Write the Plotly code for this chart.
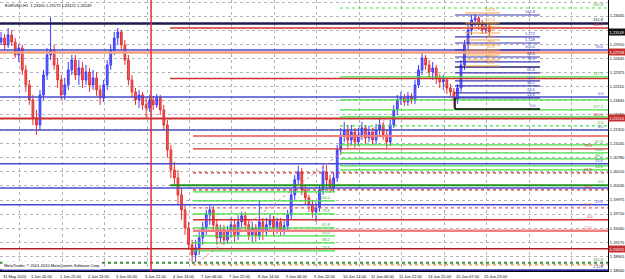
import plotly.graph_objects as go

# ---------------- price bars (2-hour bars, hour index from 31 May 2010) ----------------
bar_hour = list(range(0, 277, 2))
opens = [1.22956,1.23032,1.22900,1.23088,1.22956,1.22711,1.22843,1.22429,1.22146,1.21863,
         1.21524,1.21392,1.21957,1.22334,1.22711,1.22806,1.22523,1.22240,1.21957,1.22146,
         1.22429,1.22617,1.22334,1.22466,1.22240,1.22391,1.22146,1.22278,1.22051,1.21901,
         1.22146,1.22523,1.22806,1.23032,1.23145,1.22900,1.22617,1.22240,1.22014,1.21863,
         1.21957,1.21769,1.21712,1.21863,1.21769,1.21901,1.21674,1.21392,1.20920,1.20543,
         1.20393,1.20072,1.19789,1.19450,1.19130,1.18941,1.19073,1.19262,1.19450,1.19695,
         1.19789,1.19507,1.19262,1.19413,1.19224,1.19375,1.19507,1.19318,1.19563,1.19676,
         1.19507,1.19318,1.19450,1.19299,1.19563,1.19375,1.19507,1.19601,1.19450,1.19563,
         1.19413,1.19488,1.19695,1.20072,1.20355,1.20506,1.20166,1.20016,1.19884,1.19752,
         1.19827,1.20166,1.20506,1.20355,1.20204,1.20393,1.20920,1.21203,1.21297,1.21109,
         1.21260,1.21071,1.21203,1.21335,1.21147,1.21260,1.21109,1.21297,1.21392,1.21203,
         1.21071,1.21392,1.21674,1.21863,1.21901,1.21825,1.21938,1.21863,1.22146,1.22429,
         1.22655,1.22523,1.22391,1.22466,1.22278,1.22202,1.22240,1.22089,1.22014,1.21863,
         1.22089,1.22523,1.22900,1.23183,1.23371,1.23409,1.23296,1.23183,1.23258]
highs = [1.23145,1.23107,1.23220,1.23183,1.23032,1.22919,1.22900,1.22523,1.22240,1.21957,
         1.21674,1.22051,1.22429,1.22843,1.23428,1.22900,1.22655,1.22334,1.22278,1.22579,
         1.22711,1.22711,1.22617,1.22579,1.22523,1.22466,1.22429,1.22391,1.22146,1.22240,
         1.22617,1.22900,1.23145,1.23220,1.23183,1.22994,1.22711,1.22334,1.22089,1.22051,
         1.22014,1.21901,1.21957,1.21938,1.21976,1.21957,1.21769,1.21486,1.21015,1.20694,
         1.20543,1.20204,1.19884,1.19563,1.19224,1.19224,1.19413,1.19563,1.19789,1.19884,
         1.19865,1.19601,1.19507,1.19507,1.19488,1.19639,1.19601,1.19695,1.19752,1.19752,
         1.19601,1.19563,1.19526,1.19978,1.19639,1.19639,1.19695,1.19676,1.19639,1.19639,
         1.19601,1.19789,1.20166,1.20449,1.20619,1.20581,1.20261,1.20072,1.19978,1.19940,
         1.20261,1.20638,1.20638,1.20449,1.20506,1.21015,1.21335,1.21448,1.21392,1.21392,
         1.21335,1.21335,1.21448,1.21392,1.21373,1.21335,1.21411,1.21524,1.21448,1.21297,
         1.21486,1.21769,1.21957,1.22014,1.21976,1.22014,1.21995,1.22240,1.22523,1.22768,
         1.22711,1.22617,1.22579,1.22523,1.22353,1.22334,1.22278,1.22165,1.22089,1.22165,
         1.22617,1.22994,1.23277,1.23465,1.23484,1.23446,1.23371,1.23333,1.23296]
lows = [1.22900,1.22806,1.22843,1.22881,1.22655,1.22579,1.22334,1.22014,1.21769,1.21392,
        1.21203,1.21297,1.21863,1.22240,1.22617,1.22429,1.22089,1.21863,1.21863,1.22051,
        1.22334,1.22240,1.22146,1.22089,1.22146,1.22014,1.22051,1.21938,1.21769,1.21825,
        1.22051,1.22429,1.22711,1.22900,1.22806,1.22523,1.22146,1.21901,1.21769,1.21712,
        1.21674,1.21524,1.21637,1.21674,1.21712,1.21580,1.21297,1.20770,1.20393,1.20261,
        1.19884,1.19601,1.19318,1.19036,1.18809,1.18809,1.18941,1.19130,1.19318,1.19507,
        1.19375,1.19130,1.19167,1.19130,1.19149,1.19262,1.19186,1.19224,1.19450,1.19413,
        1.19224,1.19186,1.19186,1.19224,1.19224,1.19299,1.19413,1.19318,1.19337,1.19299,
        1.19318,1.19375,1.19601,1.19978,1.20261,1.20072,1.19884,1.19752,1.19639,1.19563,
        1.19752,1.20072,1.20204,1.20110,1.20129,1.20317,1.20826,1.21071,1.20958,1.21015,
        1.20958,1.20996,1.21109,1.21034,1.21071,1.21015,1.21034,1.21203,1.21109,1.20958,
        1.20996,1.21335,1.21580,1.21769,1.21750,1.21750,1.21788,1.21788,1.22089,1.22334,
        1.22429,1.22278,1.22240,1.22165,1.22089,1.22051,1.21976,1.21901,1.21712,1.21788,
        1.22014,1.22429,1.22806,1.23088,1.23258,1.23183,1.23107,1.23107,1.23069]
closes = [1.23032,1.22900,1.23088,1.22956,1.22711,1.22843,1.22429,1.22146,1.21863,1.21524,
          1.21392,1.21957,1.22334,1.22711,1.22806,1.22523,1.22240,1.21957,1.22146,1.22429,
          1.22617,1.22334,1.22466,1.22240,1.22391,1.22146,1.22278,1.22051,1.21901,1.22146,
          1.22523,1.22806,1.23032,1.23145,1.22900,1.22617,1.22240,1.22014,1.21863,1.21957,
          1.21769,1.21712,1.21863,1.21769,1.21901,1.21674,1.21392,1.20920,1.20543,1.20393,
          1.20072,1.19789,1.19450,1.19130,1.18941,1.19073,1.19262,1.19450,1.19695,1.19789,
          1.19507,1.19262,1.19413,1.19224,1.19375,1.19507,1.19318,1.19563,1.19676,1.19507,
          1.19318,1.19450,1.19299,1.19563,1.19375,1.19507,1.19601,1.19450,1.19563,1.19413,
          1.19488,1.19695,1.20072,1.20355,1.20506,1.20166,1.20016,1.19884,1.19752,1.19827,
          1.20166,1.20506,1.20355,1.20204,1.20393,1.20920,1.21203,1.21297,1.21109,1.21260,
          1.21071,1.21203,1.21335,1.21147,1.21260,1.21109,1.21297,1.21392,1.21203,1.21071,
          1.21392,1.21674,1.21863,1.21901,1.21825,1.21938,1.21863,1.22146,1.22429,1.22655,
          1.22523,1.22391,1.22466,1.22278,1.22202,1.22240,1.22089,1.22014,1.21863,1.22089,
          1.22523,1.22900,1.23183,1.23371,1.23409,1.23296,1.23183,1.23258,1.23149]

# ---------------- axes text ----------------
time_tick_hours = [0,16,32,48,64,80,96,112,128,144,160,176,192,208,224,240,256,272]
time_labels = ["31 May 2010","1 Jun 05:00","1 Jun 21:00","2 Jun 13:00","3 Jun 05:00",
               "3 Jun 21:00","4 Jun 13:00","7 Jun 06:00","7 Jun 22:00","8 Jun 14:00",
               "9 Jun 06:00","9 Jun 22:00","10 Jun 14:00","11 Jun 06:00","11 Jun 22:00",
               "14 Jun 15:00","15 Jun 07:00","15 Jun 23:00"]
price_tick_values = [1.23710,1.23445,1.23175,1.22910,1.22645,1.22375,1.22110,
                     1.21845,1.21580,1.21310,1.21045,1.20780,1.20510,1.20245,
                     1.19975,1.19710,1.19440,1.19175,1.18905,1.18640]
# the 1.23175 label is hidden behind the current-price box in the reference
price_labels = ["1.23710","1.23445","","1.22910","1.22645","1.22375","1.22110",
                "1.21845","1.21580","1.21310","1.21045","1.20780","1.20510","1.20245",
                "1.19975","1.19710","1.19440","1.19175","1.18905","1.18640"]
header_text = "EURUSD,H1  1.23160 1.23175 1.23122 1.23149"
footer_text = "MetaTrader, \u00a9 2001-2010 MetaQuotes Software Corp."

X_MIN, X_MAX = -0.6, 343.1
Y_MIN, Y_MAX = 1.18636, 1.23748

# ---------------- drawn objects (price levels, anchored in time) ----------------
full_prices = [1.23305, 1.22806, 1.22758, 1.21919, 1.21514, 1.21297, 1.20657, 1.20204, 1.19884, 1.19055, 1.18790, 1.18649]
full_labels = ["161.8", "78.6", "", "0.0", "100.0", "0.0", "23.6", "", "23.6", "", "161.8", "1.128"]
full_colors = ["#1c1c50", "#4a4ad0", "#f4a080", "#4848d0", "#c83030", "#5050b8", "#4848d0", "#4848d0", "#4848d0", "#b82020", "#3c8c3c", "#3030a0"]
full_widths = [2.5, 1.5, 2.5, 1.5, 2, 1.5, 1.5, 1.5, 1.5, 1.5, 2, 2]
full_dashes = ["solid"] * 10 + ["dot", "solid"]

red_start_a = 95.5
red_a_prices = [1.23220, 1.22268]
red_a_labels = ["161.8", ""]
red_start_b = 108.5
red_b_prices = [1.21184, 1.20939, 1.20487, 1.20166, 1.19827, 1.19601, 1.19394, 1.18753]
red_b_labels = ["", "78.6", "61.8", "50.0", "38.2", "0.0", "23.6", ""]
red_b_colors = ["#f08080", "#d03030", "#d03030", "#d03030", "#e06060", "#d03030", "#f08080", "#e08030"]
red_b_widths = [2, 1.2, 1.2, 1.2, 1.2, 1.5, 2.5, 1]
red_b_dashes = ["solid", "solid", "dot", "dot", "dot", "solid", "solid", "dot"]

green_start = 191.6
green_prices = [1.23597, 1.22296, 1.21863, 1.21674, 1.21543, 1.21373, 1.21015, 1.20864, 1.20751, 1.20619, 1.20543]
green_labels = ["261.8", "127.2", "", "127.2", "", "0.0", "61.8", "50.0", "38.2", "", "14.6"]
green_thick_start = 95.5
green_thick_price = 1.20252

low_green_start, low_green_end = 108.5, 188.8
low_green_prices = [1.20129, 1.19959, 1.19714, 1.19450, 1.19299, 1.19167, 1.19017]
low_green_labels = ["127.2", "100.0", "78.6", "61.8", "50.0", "38.2", "23.6"]

blue_start, blue_end = 256.6, 304.7
blue_prices = [1.23465, 1.23051, 1.22937, 1.22806, 1.22673, 1.22579, 1.22485, 1.22372, 1.22221, 1.22127, 1.21995, 1.21901]
blue_labels = ["161.8", "1.272", "1.128", "100.0", "88.6", "78.6", "", "61.8", "50.0", "38.2", "23.6", "14.6"]
blue_zero_price = 1.21693

orange_start, orange_end = 262.3, 282.0
orange_prices = [1.23503, 1.23315, 1.23239, 1.23126, 1.22994, 1.22900, 1.22806, 1.22711, 1.22617, 1.22504]
orange_labels = ["161.8", "127.2", "113.0", "100.0", "88.6", "78.6", "61.8", "50.0", "38.2", "23.6"]

trend_hours = [110.8, 218.2]
trend_prices = [1.18790, 1.21524]
vline_hour = 84.8

box_prices = [1.23149, 1.22758, 1.21514, 1.19055]
box_texts = ["1.23149", "1.22758", "1.21514", "1.19055"]
box_colors = ["#101010", "#c83030", "#c83030", "#c83030"]

FONT = "Liberation Sans"
fig = go.Figure()
annotations = []

fig.add_trace(go.Candlestick(
    x=bar_hour, open=opens, high=highs, low=lows, close=closes,
    increasing=dict(line=dict(color="#3a3aff", width=1), fillcolor="#6464ff"),
    decreasing=dict(line=dict(color="#e53030", width=1), fillcolor="#f06060"),
    whiskerwidth=0, hoverinfo="skip", showlegend=False))


def add_level(price, x0, x1, color, width, dash, label="", label_color=None, label_shift=-2):
    fig.add_trace(go.Scatter(x=[x0, x1], y=[price, price], mode="lines",
                             line=dict(color=color, width=width, dash=dash),
                             hoverinfo="skip", showlegend=False))
    if label:
        annotations.append(dict(x=x1, y=price, xref="x", yref="y", text=label,
                                showarrow=False, xanchor="right", yanchor="bottom",
                                xshift=label_shift, yshift=-1,
                                font=dict(family=FONT, size=4, color=label_color or color)))


for p, lab, c, w, d in zip(full_prices, full_labels, full_colors, full_widths, full_dashes):
    add_level(p, X_MIN, X_MAX, c, w, d, lab)
for p, lab in zip(red_a_prices, red_a_labels):
    add_level(p, red_start_a, X_MAX, "#d03030", 1.5, "solid", lab)
for p, lab, c, w, d in zip(red_b_prices, red_b_labels, red_b_colors, red_b_widths, red_b_dashes):
    add_level(p, red_start_b, X_MAX, c, w, d, lab, None, -13)
for i, (p, lab) in enumerate(zip(green_prices, green_labels)):
    add_level(p, green_start, X_MAX, "#44dd44", 1.2, "dot" if i in (0, 5) else "solid", lab, "#30b030")
add_level(green_thick_price, green_thick_start, X_MAX, "#1e961e", 2, "solid", "0.0", "#30b030")
for p, lab in zip(low_green_prices, low_green_labels):
    add_level(p, low_green_start, low_green_end, "#44dd44", 1.2, "solid", lab, "#30b030")
for i, (p, lab) in enumerate(zip(blue_prices, blue_labels)):
    add_level(p, blue_start, blue_end, "#202070" if i == 6 else "#3838b0", 1.5 if i == 6 else 1.2, "solid", lab, "#4040c0")
add_level(blue_zero_price, blue_start, blue_end, "#000000", 1.5, "solid", "0.0", "#4040c0")
fig.add_trace(go.Scatter(x=[blue_start, blue_start], y=[blue_zero_price, blue_prices[-1]], mode="lines",
                         line=dict(color="#000000", width=1.5), hoverinfo="skip", showlegend=False))
for p, lab in zip(orange_prices, orange_labels):
    add_level(p, orange_start, orange_end, "#f5a54a", 1, "solid", lab, "#f09020")

fig.add_trace(go.Scatter(x=trend_hours, y=trend_prices, mode="lines",
                         line=dict(color="#f08080", width=1, dash="dot"),
                         hoverinfo="skip", showlegend=False))
fig.add_vline(x=vline_hour, line_color="#e03030", line_width=1.5)

for p, t, c in zip(box_prices, box_texts, box_colors):
    annotations.append(dict(x=1, y=p, xref="paper", yref="y", text=t, showarrow=False,
                            xanchor="left", yanchor="middle", bgcolor=c, borderpad=0.5,
                            font=dict(family=FONT, size=4, color="white")))

for h, t in zip(time_tick_hours, time_labels):
    annotations.append(dict(x=h, y=0, xref="x", yref="paper", text=t, showarrow=False,
                            xanchor="left", yanchor="top", xshift=0, yshift=-1,
                            font=dict(family=FONT, size=4, color="black")))

annotations.append(dict(x=0, y=1, xref="paper", yref="paper", text=header_text, showarrow=False,
                        xanchor="left", yanchor="top", xshift=3, yshift=-1,
                        font=dict(family=FONT, size=4, color="black")))
annotations.append(dict(x=0, y=0, xref="paper", yref="paper", text=footer_text, showarrow=False,
                        xanchor="left", yanchor="bottom", xshift=2, yshift=1, bgcolor="white",
                        font=dict(family=FONT, size=4, color="black")))

fig.update_layout(
    width=625, height=279, autosize=False,
    margin=dict(l=0, r=17, t=0, b=8, pad=0),
    paper_bgcolor="white", plot_bgcolor="white",
    showlegend=False, hovermode=False,
    font=dict(family=FONT, size=4, color="black"),
    annotations=annotations,
    xaxis=dict(range=[X_MIN, X_MAX], rangeslider=dict(visible=False),
               tickmode="linear", tick0=10.5, dtick=24, showticklabels=False, ticks="",
               showgrid=True, gridcolor="#b4b4b4", griddash="dot", gridwidth=1,
               showline=True, linecolor="black", linewidth=1, zeroline=False),
    yaxis=dict(range=[Y_MIN, Y_MAX], side="right",
               tickmode="array", tickvals=price_tick_values, ticktext=price_labels,
               ticks="", tickfont=dict(family=FONT, size=4, color="black"),
               showgrid=True, gridcolor="#b4b4b4", griddash="dot", gridwidth=1,
               showline=True, linecolor="black", linewidth=1, zeroline=False),
)

fig.write_html("out.html")
